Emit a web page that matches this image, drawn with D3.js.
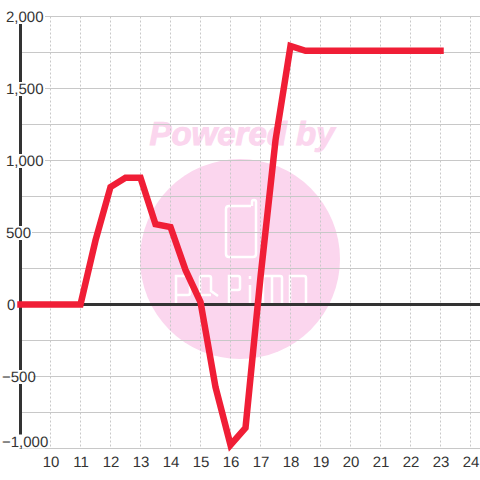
<!DOCTYPE html>
<html>
<head>
<meta charset="utf-8">
<script src="https://cdn.jsdelivr.net/npm/d3@7"></script>
<style>
html, body { margin: 0; padding: 0; background: #fff; }
svg { display: block; }
text { font-family: "Liberation Sans", Arial, sans-serif; text-rendering: geometricPrecision; }
</style>
</head>
<body>
<svg id="chart" width="480" height="480"></svg>
<script>
// --- DATA ---
const hours = [9, 9.5, 10, 10.5, 11, 11.5, 12, 12.5, 13, 13.5, 14, 14.5, 15, 15.5, 16, 16.5, 17, 17.5, 18, 18.5, 19, 19.5, 20, 20.5, 21, 21.5, 22, 22.5, 23];
const values = [0, 0, 0, 0, 0, 445, 816, 880, 880, 558, 538, 240, 17, -573, -975, -857, 190, 1140, 1795, 1762, 1762, 1762, 1762, 1762, 1762, 1762, 1762, 1762, 1762];
const xTicks = [10, 11, 12, 13, 14, 15, 16, 17, 18, 19, 20, 21, 22, 23, 24];
const yLabels = [2000, 1500, 1000, 500, 0, -500, -1000];
const yGrid = [2000, 1750, 1500, 1250, 1000, 750, 500, 250, -250, -500, -750, -1000];

// --- SETUP ---
const svg = d3.select("#chart");
const xScale = d3.scaleLinear().domain([9, 24]).range([20.5, 470.5]);
const yScale = d3.scaleLinear().domain([-1000, 2000]).range([448.5, 16.5]);
const fmt = d3.format(",");

// Watermark sits under the grid
const mark = svg.append("g");
const pink = "#fbd6ee";
mark.append("circle").attr("cx", 240).attr("cy", 259).attr("r", 100).attr("fill", pink);
mark.append("text")
    .attr("x", 242).attr("y", 145)
    .attr("text-anchor", "middle")
    .attr("font-size", 33).attr("font-weight", "bold").attr("font-style", "italic")
    .attr("fill", pink)
    .attr("stroke", pink).attr("stroke-width", 1)
    .text("Powered by");

const logo = [
    "M251 206H229Q226 206 226 209V254Q226 257 229 257H253Q256 257 256 254V202Q256 200 254 200Q252 200 252 202V206", // phone
    "M176 305V276H188Q190 276 190 278V293Q190 295 188 295H176", // P
    "M200 305V278Q200 276 202 276H209Q211 276 211 278V291L218 296M200 295H211", // A
    "M229 305V276H238Q240 276 240 278V288Q240 290 238 290H229", // P
    "M250 305V285M250 276V279", // i
    "M263 305V278Q263 276 265 276H280Q282 276 282 278V305M272 276V305", // M
    "M290 276H304Q306 276 306 278V303Q306 305 304 305H290Z" // O
];
mark.selectAll("path").data(logo).join("path")
    .attr("d", d => d)
    .attr("fill", "none")
    .attr("stroke", "#fff")
    .attr("stroke-width", 2.5);

// Grid
svg.append("g").selectAll("line").data(yGrid).join("line")
    .attr("x1", 20).attr("x2", 480)
    .attr("y1", d => yScale(d)).attr("y2", d => yScale(d))
    .attr("stroke", "#c8c8c8").attr("stroke-width", 1);

svg.append("g").selectAll("line").data(xTicks).join("line")
    .attr("x1", d => xScale(d)).attr("x2", d => xScale(d))
    .attr("y1", yScale(2000)).attr("y2", yScale(-1000))
    .attr("stroke", "#c8c8c8").attr("stroke-width", 1)
    .attr("stroke-dasharray", "2,2");

// Axis lines
svg.append("line")
    .attr("x1", xScale(9)).attr("x2", xScale(9))
    .attr("y1", yScale(2000)).attr("y2", yScale(-1000))
    .attr("stroke", "#333").attr("stroke-width", 3);
svg.append("line")
    .attr("x1", xScale(9)).attr("x2", 480)
    .attr("y1", yScale(0)).attr("y2", yScale(0))
    .attr("stroke", "#333").attr("stroke-width", 3);

// Series
const line = d3.line().x((d, i) => xScale(hours[i])).y(d => yScale(d));
svg.append("path")
    .datum(values)
    .attr("d", line)
    .attr("fill", "none")
    .attr("stroke", "#f01e36")
    .attr("stroke-width", 6.5)
    .attr("stroke-linecap", "square")
    .attr("stroke-linejoin", "miter");

// Labels, each on a white plate that cuts the axis and the grid
const labelY = d => d === -1000 ? yScale(d) - 7 : yScale(d) + 0.5;
const labels = svg.append("g").selectAll("g").data(yLabels).join("g")
    .attr("transform", d => `translate(${d < 0 ? 2 : 6},${labelY(d)})`);
labels.append("rect")
    .attr("x", 0)
    .attr("y", -7)
    .attr("width", d => d === 0 ? 0 : (Math.abs(d) >= 1000 ? (d < 0 ? 43 : 39) : (d < 0 ? 31 : 26)))
    .attr("height", 14)
    .attr("fill", "#fff");
labels.append("text")
    .attr("x", d => d === 0 ? 1 : 0)
    .attr("y", 0)
    .attr("dy", "0.36em")
    .attr("font-size", 15)
    .attr("fill", "#333")
    .text(d => fmt(d));

svg.append("g").selectAll("text").data(xTicks).join("text")
    .attr("x", d => xScale(d) + 0.5)
    .attr("y", 467)
    .attr("text-anchor", "middle")
    .attr("font-size", 15)
    .attr("fill", "#333")
    .text(d => d);
</script>
</body>
</html>
